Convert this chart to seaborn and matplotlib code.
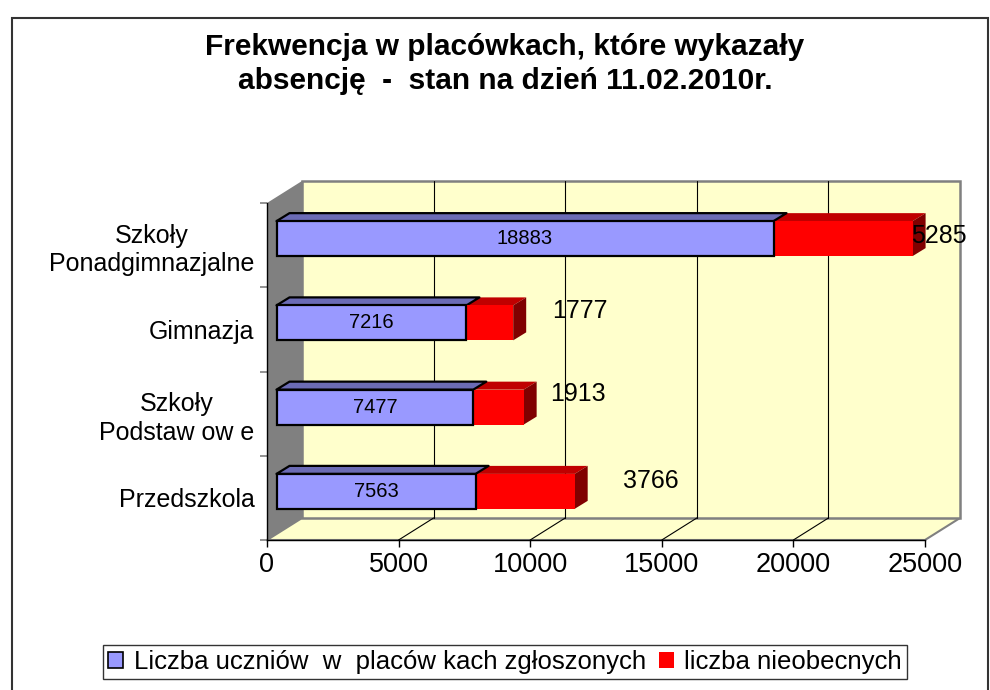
import numpy as np
import pandas as pd
import matplotlib
matplotlib.use("Agg")
import matplotlib.pyplot as plt
import seaborn as sns
from matplotlib.patches import Polygon, Rectangle, Patch
from matplotlib.lines import Line2D
from matplotlib.transforms import offset_copy, IdentityTransform

# ---------------- data ----------------
categories = ["Szkoły\nPonadgimnazjalne", "Gimnazja", "Szkoły\nPodstaw ow e", "Przedszkola"]
zgloszeni = [18883, 7216, 7477, 7563]
nieobecni = [5285, 1777, 1913, 3766]
x_ticks = [0, 5000, 10000, 15000, 20000, 25000]
series_names = ["Liczba uczniów  w  placów kach zgłoszonych", "liczba nieobecnych"]
title = "Frekwencja w placówkach, które wykazały\nabsencję  -  stan na dzień 11.02.2010r."

# ---------------- style ----------------
W, H = 990, 690
sns.set_style("white")
plt.rcParams['font.family'] = ['Liberation Sans', 'DejaVu Sans']
plt.rcParams['text.color'] = 'black'
plt.rcParams['xtick.color'] = 'black'
plt.rcParams['ytick.color'] = 'black'
plt.rcParams['axes.labelcolor'] = 'black'

BLUE, BLUE_TOP = "#9999FF", "#6B6BB5"
RED, RED_TOP, RED_SIDE = "#FF0000", "#C00000", "#800000"
WALL, WALL_EDGE, SIDE = "#FFFFCC", "#808080", "#808080"
WALL_OFF = (35, 22)     # depth offset of back wall (pixels)
BAR_FRONT = (9.5, 6.5)  # offset of bar front plane
BAR_DEPTH = (13, 8)     # depth of bars
BAR_W = 0.415
# label offsets (pixels) from end of red bar
lab_dx = [26, 67, 54, 76]
lab_dy = [3, 12, 13, 10]

fig = plt.figure(figsize=(W / 100, H / 100), dpi=100)
ax = fig.add_axes([267 / W, (H - 540) / H, (925 - 267) / W, (540 - 203) / H])

df = pd.DataFrame({"kategoria": categories, "zgl": zgloszeni, "nieob": nieobecni})
df["razem"] = df["zgl"] + df["nieob"]

sns.barplot(data=df, x="razem", y="kategoria", orient="h", color=RED, saturation=1,
            width=BAR_W, edgecolor="none", linewidth=0, ax=ax, zorder=3)
sns.barplot(data=df, x="zgl", y="kategoria", orient="h", color=BLUE, saturation=1,
            width=BAR_W, edgecolor="black", linewidth=1.6, ax=ax, zorder=3)

ax.set_xlim(0, 25000)
ax.set_ylim(3.5, -0.5)
ax.set_xlabel("")
ax.set_ylabel("")
ax.patch.set_visible(False)

bar_tr = offset_copy(ax.transData, fig=fig, x=BAR_FRONT[0], y=BAR_FRONT[1], units='dots')
for p in ax.patches:
    p.set_transform(bar_tr)
    p.set_clip_on(False)


def D(x, y, ox=0.0, oy=0.0):
    px, py = ax.transData.transform((x, y))
    return (px + ox, py + oy)


def poly(verts, **kw):
    pg = Polygon(verts, closed=True, transform=IdentityTransform(), clip_on=False, **kw)
    ax.add_artist(pg)
    return pg


ytop, ybot = -0.5, 3.5
wx, wy = WALL_OFF
# side wall
poly([D(0, ytop), D(0, ytop, wx, wy), D(0, ybot, wx, wy), D(0, ybot)],
     facecolor=SIDE, edgecolor="none", zorder=0.5)
# floor
poly([D(0, ybot), D(25000, ybot), D(25000, ybot, wx, wy), D(0, ybot, wx, wy)],
     facecolor=WALL, edgecolor=WALL_EDGE, linewidth=1.5, zorder=0.5)
# back wall
poly([D(0, ybot, wx, wy), D(25000, ybot, wx, wy), D(25000, ytop, wx, wy), D(0, ytop, wx, wy)],
     facecolor=WALL, edgecolor=WALL_EDGE, linewidth=1.8, zorder=0.5)
# gridlines
for v in x_ticks[1:-1]:
    a, b = D(v, ybot, wx, wy), D(v, ytop, wx, wy)
    ax.add_artist(Line2D([a[0], b[0]], [a[1], b[1]], color="black", lw=0.8,
                         transform=IdentityTransform(), clip_on=False, zorder=0.6))
    a, b = D(v, ybot), D(v, ybot, wx, wy)
    ax.add_artist(Line2D([a[0], b[0]], [a[1], b[1]], color="black", lw=0.8,
                         transform=IdentityTransform(), clip_on=False, zorder=0.6))

# 3D faces of bars
fx, fy = BAR_FRONT
dx, dy = BAR_DEPTH
for i in range(len(categories)):
    z = df["zgl"][i]
    t = df["razem"][i]
    yt = i - BAR_W / 2
    yb = i + BAR_W / 2
    # blue top
    poly([D(0, yt, fx, fy), D(z, yt, fx, fy), D(z, yt, fx + dx, fy + dy), D(0, yt, fx + dx, fy + dy)],
         facecolor=BLUE_TOP, edgecolor="black", linewidth=1.6, joinstyle="round", zorder=2.9)
    # red top
    poly([D(z, yt, fx, fy), D(t, yt, fx, fy), D(t, yt, fx + dx, fy + dy), D(z, yt, fx + dx, fy + dy)],
         facecolor=RED_TOP, edgecolor="none", zorder=2.8)
    # red side
    poly([D(t, yt, fx, fy), D(t, yb, fx, fy), D(t, yb, fx + dx, fy + dy), D(t, yt, fx + dx, fy + dy)],
         facecolor=RED_SIDE, edgecolor="none", zorder=2.8)
    # value labels
    ax.text(z / 2, i, f"{z}", transform=bar_tr, ha="center", va="center",
            fontsize=14.5, color="black", zorder=5, clip_on=False)
    tr = offset_copy(ax.transData, fig=fig, x=fx + lab_dx[i], y=fy + lab_dy[i], units='dots')
    ax.text(t, i, f"{df['nieob'][i]}", transform=tr, ha="center", va="center",
            fontsize=18, color="black", zorder=5, clip_on=False)

# axes / ticks
for s in ["top", "right"]:
    ax.spines[s].set_visible(False)
for s in ["left", "bottom"]:
    ax.spines[s].set_color("black")
    ax.spines[s].set_linewidth(1.0)
    ax.spines[s].set_zorder(4)
ax.set_xticks(x_ticks)
ax.set_xticklabels([str(v) for v in x_ticks])
ax.tick_params(axis="x", which="major", direction="out", length=5, width=1,
               color="black", labelcolor="black", labelsize=19.5, pad=4, bottom=True)
ax.set_yticks(range(len(categories)))
ax.set_yticklabels(categories)
ax.set_yticks([-0.5, 0.5, 1.5, 2.5, 3.5], minor=True)
ax.tick_params(axis="y", which="major", length=0, labelsize=18, labelcolor="black",
               pad=9, left=True)
ax.tick_params(axis="y", which="minor", direction="out", length=5, width=1.2,
               color=WALL_EDGE, left=True)
for lab in ax.get_yticklabels():
    lab.set_multialignment("center")
    lab.set_linespacing(1.25)

# title
fig.text(505 / W, 1 - 64 / H, title, ha="center", va="center", fontsize=21.5,
         fontweight="bold", linespacing=1.25, color="black")

# legend
handles = [Patch(facecolor=BLUE, edgecolor="black", linewidth=1.2),
           Patch(facecolor=RED, edgecolor="none")]
leg = fig.legend(handles, series_names, loc="center", bbox_to_anchor=(505 / W, 1 - 662 / H),
                 ncol=2, frameon=True, fancybox=False, fontsize=18.5, handlelength=0.6,
                 handleheight=0.6, handletextpad=0.4, columnspacing=0.5, borderpad=0.2,
                 borderaxespad=0, labelcolor="black")
leg.get_frame().set_edgecolor("black")
leg.get_frame().set_linewidth(1.0)

# outer frame
fig.patches.append(Rectangle((12 / W, -0.05), (988 - 12) / W, 1.05 - 18 / H,
                             transform=fig.transFigure, fill=False,
                             edgecolor="#333333", linewidth=1.5))

fig.savefig("out.png", dpi=100)
